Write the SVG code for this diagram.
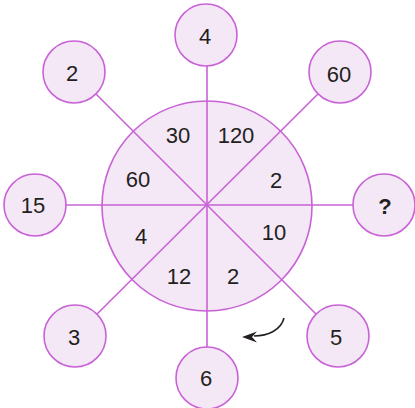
<svg xmlns="http://www.w3.org/2000/svg" width="415" height="408" viewBox="0 0 415 408">
<style>
.c{fill:#f4e7f6;stroke:#c862d6;stroke-width:1.6}
.l{stroke:#c862d6;stroke-width:1.6;fill:none}
text{font-family:"Liberation Sans",Arial,sans-serif;font-size:22px;fill:#231f20;text-anchor:middle}
</style>
<g id="hub">
<circle class="c" cx="207" cy="206" r="105"/>
</g>
<g id="connectors">
<line class="l" x1="207" y1="35" x2="207" y2="378"/>
<line class="l" x1="35" y1="205" x2="384" y2="205"/>
<line class="l" x1="74" y1="72" x2="338" y2="336"/>
<line class="l" x1="340" y1="72" x2="75" y2="336"/>
<path d="M284,318 C281,330 268,336 254,336" fill="none" stroke="#231f20" stroke-width="1.6"/>
<path d="M242,337 L257,331.5 L252,337 L257,342.5 Z" fill="#231f20"/>
</g>
<g id="segment-labels">
<text x="178" y="143">30</text>
<text x="236" y="143">120</text>
<text x="138" y="187">60</text>
<text x="276" y="188">2</text>
<text x="141" y="244">4</text>
<text x="274" y="240">10</text>
<text x="179" y="284">12</text>
<text x="233" y="284">2</text>
</g>
<g id="n-top"><circle class="c" cx="206" cy="35" r="31"/><text x="205" y="44">4</text></g>
<g id="n-topright"><circle class="c" cx="340" cy="72" r="31"/><text x="339" y="82">60</text></g>
<g id="n-right"><circle class="c" cx="384" cy="205" r="31"/><text x="385" y="214" font-weight="bold">?</text></g>
<g id="n-bottomright"><circle class="c" cx="338" cy="336" r="31"/><text x="336" y="345">5</text></g>
<g id="n-bottom"><circle class="c" cx="207" cy="378" r="31"/><text x="206" y="386">6</text></g>
<g id="n-bottomleft"><circle class="c" cx="75" cy="336" r="31"/><text x="74" y="345">3</text></g>
<g id="n-left"><circle class="c" cx="35" cy="205" r="31"/><text x="33" y="213">15</text></g>
<g id="n-topleft"><circle class="c" cx="74" cy="72" r="31"/><text x="72" y="81">2</text></g>
</svg>
